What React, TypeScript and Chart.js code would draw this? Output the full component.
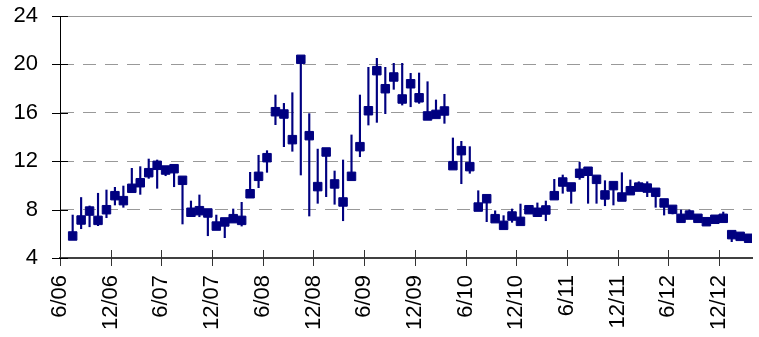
import React, { useEffect, useRef } from "react";
import { Chart, registerables } from "chart.js";

Chart.register(...registerables);

// Monthly observations, 7/06 .. 3/13 (81 months)
const values = [
  5.82, 7.14, 7.88, 7.11, 7.99, 9.15, 8.74, 9.76, 10.22, 11.05, 11.66, 11.27,
  11.38, 10.42, 7.78, 7.91, 7.72, 6.64, 6.98, 7.25, 7.11, 9.31, 10.75, 12.29,
  16.09, 15.9, 13.78, 20.42, 14.11, 9.9, 12.76, 10.12, 8.63, 10.75, 13.2, 16.17,
  19.48, 17.99, 18.96, 17.14, 18.4, 17.24, 15.74, 15.87, 16.15, 11.63, 12.87, 11.55,
  8.21, 8.9, 7.25, 6.7, 7.47, 7.03, 7.99, 7.78, 7.97, 9.15, 10.28, 9.87,
  11.0, 11.17, 10.5, 9.21, 9.98, 9.04, 9.56, 9.86, 9.78, 9.43, 8.55, 8.02,
  7.28, 7.55, 7.28, 7.0, 7.2, 7.28, 5.93, 5.79, 5.63,
];
const highs = [
  7.55, 9.0, 8.3, 9.35, 9.62, 9.84, 9.95, 11.41, 11.55, 12.18, 12.1, 11.4,
  11.5, 10.6, 8.71, 9.21, 7.9, 7.55, 7.2, 8.05, 8.6, 11.08, 12.49, 12.87,
  17.47, 16.78, 17.66, 20.6, 15.93, 13.0, 12.9, 11.19, 12.1, 14.17, 17.47, 19.76,
  20.5, 19.76, 20.09, 20.09, 19.26, 19.29, 18.57, 17.06, 17.53, 13.92, 13.64, 13.2,
  9.56, 9.1, 7.9, 7.5, 8.05, 8.46, 8.1, 8.55, 8.71, 10.5, 10.86, 10.1,
  11.91, 11.3, 10.6, 10.39, 10.1, 11.05, 10.45, 10.3, 10.3, 9.6, 8.7, 8.2,
  7.97, 7.97, 7.4, 7.15, 7.35, 7.8, 6.05, 5.9, 5.75,
];
const lows = [
  5.7, 6.42, 6.58, 6.67, 7.33, 8.38, 8.19, 9.6, 9.26, 10.58, 9.76, 10.8,
  9.89, 6.81, 7.6, 7.41, 5.84, 6.4, 5.68, 7.1, 6.64, 9.1, 9.81, 11.08,
  15.02, 13.2, 12.82, 10.86, 7.47, 8.52, 9.07, 8.44, 7.08, 10.6, 12.37, 14.99,
  15.21, 15.93, 17.94, 16.64, 16.5, 16.78, 15.6, 15.7, 15.13, 11.4, 10.14, 11.0,
  8.0, 7.0, 7.1, 6.5, 6.95, 6.9, 7.8, 7.6, 7.08, 9.0, 9.35, 8.52,
  10.5, 8.52, 8.52, 8.32, 8.38, 8.9, 9.4, 9.7, 9.07, 8.19, 7.55, 7.64,
  7.15, 7.4, 7.15, 6.85, 7.05, 7.15, 5.35, 5.65, 5.5,
];
// tick labels every 6 months, starting at 6/06 (month index 0)
const tickLabels = [
  "6/06", "12/06", "6/07", "12/07", "6/08", "12/08", "6/09",
  "12/09", "6/10", "12/10", "6/11", "12/11", "6/12", "12/12",
];
const yTicks = [4, 8, 12, 16, 20, 24];

const FONT = "'Liberation Sans', Arial, sans-serif";
const NAVY = "#000080";

export default function App() {
  const ref = useRef<HTMLCanvasElement | null>(null);

  useEffect(() => {
    if (!ref.current) return;
    // month index of first observation (7/06) is 1; placed at category centre
    const markers = values.map((v, i) => ({ x: i + 1.5, y: v }));
    const bars = values.map((_, i) => ({ x: i + 1.5, y: [lows[i], highs[i]] }));

    const decor = {
      id: "decor",
      afterDraw(chart: any) {
        const { ctx, chartArea } = chart;
        const xs = chart.scales.x;
        const ys = chart.scales.y;
        ctx.save();
        // top frame line
        ctx.strokeStyle = "#999999";
        ctx.lineWidth = 1;
        ctx.beginPath();
        ctx.moveTo(chartArea.left, chartArea.top + 0.5);
        ctx.lineTo(chartArea.right, chartArea.top + 0.5);
        ctx.stroke();
        // x tick marks crossing the axis
        ctx.strokeStyle = "#333333";
        ctx.lineWidth = 1;
        xs.ticks.forEach((_: any, i: number) => {
          const px = Math.round(xs.getPixelForTick(i)) + 0.5;
          ctx.beginPath();
          ctx.moveTo(px, chartArea.bottom - 8);
          ctx.lineTo(px, chartArea.bottom + 8);
          ctx.stroke();
        });
        // y tick marks crossing the axis
        ctx.strokeStyle = "#000000";
        ys.ticks.forEach((_: any, i: number) => {
          const py = Math.round(ys.getPixelForTick(i)) + 0.5;
          ctx.beginPath();
          ctx.moveTo(chartArea.left - 8, py);
          ctx.lineTo(chartArea.left + 8, py);
          ctx.stroke();
        });
        ctx.restore();
      },
    };

    const chart = new Chart(ref.current, {
      type: "scatter",
      data: {
        datasets: [
          {
            type: "scatter",
            data: markers,
            pointStyle: "rect",
            pointRadius: 6,
            pointBackgroundColor: NAVY,
            pointBorderColor: NAVY,
            pointBorderWidth: 1,
            order: 0,
          } as any,
          {
            type: "bar",
            data: bars,
            backgroundColor: NAVY,
            barThickness: 1.5,
            order: 1,
          } as any,
        ],
      },
      options: {
        animation: false,
        responsive: false,
        devicePixelRatio: 1,
        layout: { padding: { top: 16, right: 0, bottom: 0, left: 0 } },
        plugins: { legend: { display: false }, tooltip: { enabled: false } },
        scales: {
          x: {
            type: "linear",
            min: 0,
            max: 81.9,
            offset: false,
            grid: { display: false, drawTicks: false, offset: false },
            border: { display: true, color: "#404040", width: 2 },
            afterBuildTicks: (scale: any) => {
              scale.ticks = tickLabels.map((_, i) => ({ value: i * 6 }));
            },
            afterFit: (scale: any) => {
              scale.height = 79;
              scale.paddingLeft = 0;
              scale.paddingRight = 0;
            },
            ticks: {
              autoSkip: false,
              minRotation: 90,
              maxRotation: 90,
              padding: 17,
              color: "#000000",
              font: { family: FONT, size: 22 },
              callback: (v: any) => tickLabels[Math.round(Number(v) / 6)] ?? "",
            },
          },
          y: {
            type: "linear",
            min: 4,
            max: 24,
            afterBuildTicks: (scale: any) => {
              scale.ticks = yTicks.map((v) => ({ value: v }));
            },
            afterFit: (scale: any) => {
              scale.width = 60;
              scale.paddingTop = 0;
              scale.paddingBottom = 0;
            },
            grid: {
              drawTicks: false,
              color: (ctx: any) =>
                ctx.tick && (ctx.tick.value === 24 || ctx.tick.value === 4)
                  ? "rgba(0,0,0,0)"
                  : "#999999",
              lineWidth: 1,
            },
            border: { display: true, color: "#000000", width: 1, dash: [13, 9] },
            ticks: {
              padding: 22,
              color: "#000000",
              font: { family: FONT, size: 22 },
            },
          },
        },
      },
      plugins: [decor],
    });
    return () => chart.destroy();
  }, []);

  return (
    <div style={{ position: "fixed", left: 0, top: 0, width: 759, height: 337, background: "#fff" }}>
      <canvas ref={ref} width={759} height={337} style={{ display: "block" }} />
    </div>
  );
}
